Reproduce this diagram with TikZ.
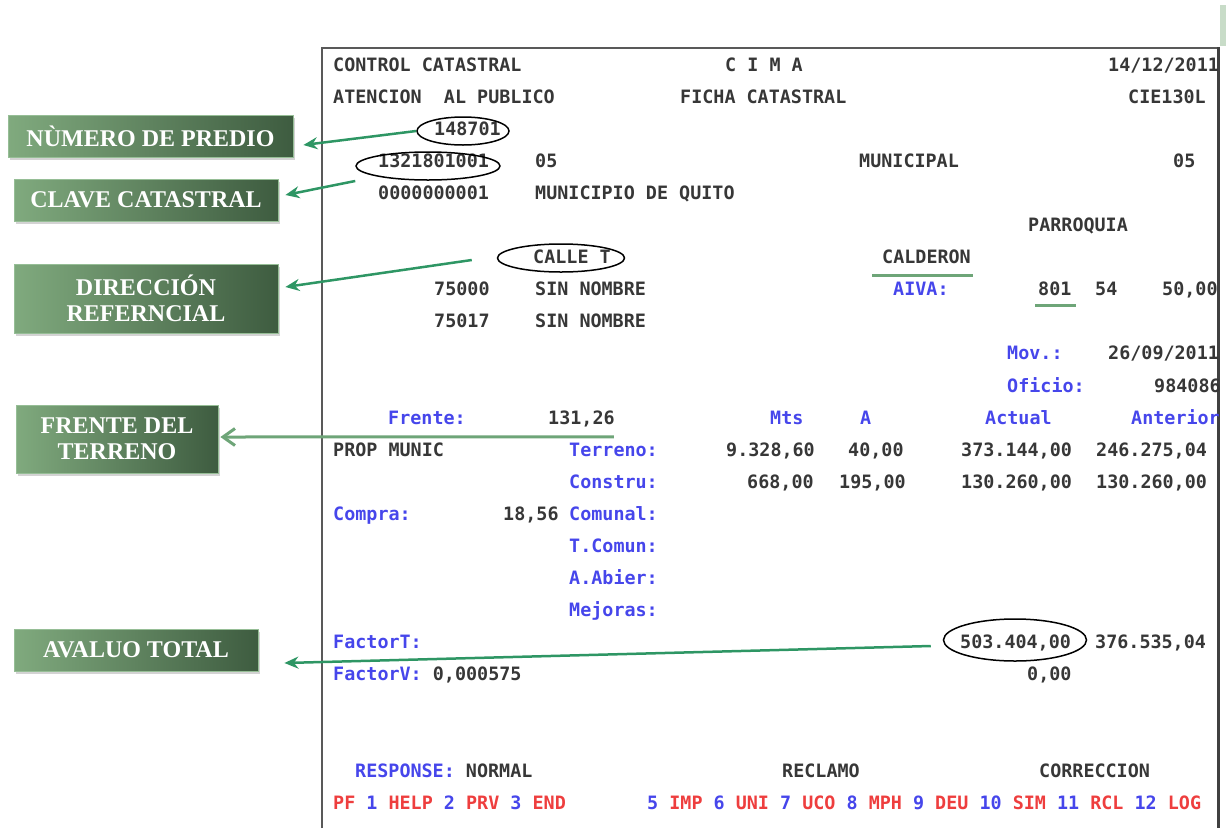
\documentclass[tikz,border=0pt]{standalone}
\usepackage{fontspec}
\setmainfont{Liberation Serif}
\setmonofont{DejaVu Sans Mono}
\usetikzlibrary{arrows.meta,shapes.geometric,shadows}
\definecolor{scrblue}{RGB}{70,70,235}
\definecolor{scrred}{RGB}{238,62,62}
\definecolor{scrink}{RGB}{55,55,55}
\definecolor{tagl}{RGB}{128,170,126}
\definecolor{tagd}{RGB}{62,92,64}
\definecolor{tagedge}{RGB}{150,190,150}
\definecolor{arrgreen}{RGB}{46,150,100}
\definecolor{paleline}{RGB}{110,165,120}
\definecolor{palestrip}{RGB}{200,220,200}
\newcommand{\pfred}[1]{\textcolor{scrred}{#1}}
\newcommand{\pfblue}[1]{\textcolor{scrblue}{#1}}

\tikzset{
  scr/.style={anchor=base west, inner sep=0pt, text=scrink,
    font=\ttfamily\bfseries\fontsize{18.4}{20}\selectfont},
  key/.style={scr, text=scrblue},
  tag/.style={rectangle, draw=tagedge, line width=0.8pt, left color=tagl,
    right color=tagd, text=white, align=center,
    font=\bfseries\fontsize{24}{26}\selectfont,
    drop shadow={shadow xshift=2pt, shadow yshift=-3pt, opacity=0.35}},
  ring/.style={ellipse, draw=black, line width=1.5pt, inner sep=0pt},
  pointer/.style={draw=arrgreen, line width=2.5pt, -{Stealth[length=14pt,width=12pt]}},
  frline/.style={draw=paleline, line width=3pt, -{Straight Barb[length=12pt,width=17pt]}},
  uline/.style={draw=paleline, line width=3pt},
}

\begin{document}
\begin{tikzpicture}[x=1pt,y=-1pt]
\useasboundingbox (0,0) rectangle (1232,828);

% screen frame
\fill[palestrip] (1220,5) rectangle (1226,46);
\draw[gray!70!black, line width=2pt] (322,828) -- (322,48) -- (1218,48);
\draw[black!75, line width=3pt] (1218,47) -- (1218,828);

% screen text
\node[scr] (hd1) at (333,71) {CONTROL CATASTRAL};
\node[scr] (hd2) at (725,71) {C I M A};
\node[scr] (hd3) at (1108,71) {14/12/2011};
\node[scr] (hd4) at (333,103.1) {ATENCION\ \ AL PUBLICO};
\node[scr] (hd5) at (680,103.1) {FICHA CATASTRAL};
\node[scr] (hd6) at (1128,103.1) {CIE130L};
\node[scr] (predio) at (434,135.2) {148701};
\node[scr] (clave) at (378,167.3) {1321801001};
\node[scr] (c05a) at (535,167.3) {05};
\node[scr] (munic) at (859,167.3) {MUNICIPAL};
\node[scr] (c05b) at (1173,167.3) {05};
\node[scr] (cod) at (378,199.4) {0000000001};
\node[scr] (quito) at (535,199.4) {MUNICIPIO DE QUITO};
\node[scr] (parr) at (1028,231.5) {PARROQUIA};
\node[scr] (calle) at (533,263.6) {CALLE T};
\node[scr] (cald) at (882,263.6) {CALDERON};
\node[scr] (n75000) at (434,295.7) {75000};
\node[scr] (sn1) at (535,295.7) {SIN NOMBRE};
\node[key] (aiva) at (893,295.7) {AIVA:};
\node[scr] (a801) at (1038,295.7) {801};
\node[scr] (a54) at (1095,295.7) {54};
\node[scr] (a50) at (1162,295.7) {50,00};
\node[scr] (n75017) at (434,327.8) {75017};
\node[scr] (sn2) at (535,327.8) {SIN NOMBRE};
\node[key] (mov) at (1007,359.9) {Mov.:};
\node[scr] (fecha) at (1108,359.9) {26/09/2011};
\node[key] (ofi) at (1007,392) {Oficio:};
\node[scr] (nofi) at (1154,392) {984086};
\node[key] (frente) at (388,424.1) {Frente:};
\node[scr] (vfrente) at (548,424.1) {131,26};
\node[key] (mts) at (770,424.1) {Mts};
\node[key] (colA) at (860,424.1) {A};
\node[key] (actual) at (985,424.1) {Actual};
\node[key] (anter) at (1131,424.1) {Anterior};
\node[scr] (prop) at (333,456.2) {PROP MUNIC};
\node[scr] (tmts) at (726,456.2) {9.328,60};
\node[scr] (ta) at (848,456.2) {40,00};
\node[scr] (tact) at (961,456.2) {373.144,00};
\node[scr] (tant) at (1096,456.2) {246.275,04};
\node[scr] (cmts) at (747,488.3) {668,00};
\node[scr] (ca) at (839,488.3) {195,00};
\node[scr] (cact) at (961,488.3) {130.260,00};
\node[scr] (cant) at (1096,488.3) {130.260,00};
\node[key] (compra) at (333,520.4) {Compra:};
\node[scr] (vcompra) at (503,520.4) {18,56};
\foreach \t [count=\i from 12] in {Terreno:,Constru:,Comunal:,T.Comun:,A.Abier:,Mejoras:}
  \node[key] (lbl\i) at (569,{71+32.1*\i}) {\t};
\node[key] (factT) at (333,648.8) {FactorT:};
\node[scr] (total) at (960,648.8) {503.404,00};
\node[scr] (totant) at (1095,648.8) {376.535,04};
\node[scr] (factV) at (333,680.9) {\pfblue{FactorV:} 0,000575};
\node[scr] (cero) at (1027,680.9) {0,00};
\node[scr] (resp) at (355,777.2) {\pfblue{RESPONSE:} NORMAL};
\node[scr] (recl) at (782,777.2) {RECLAMO};
\node[scr] (corr) at (1039,777.2) {CORRECCION};
\node[scr] (pfa) at (333,809.3) {\pfred{PF} \pfblue{1} \pfred{HELP} \pfblue{2} \pfred{PRV} \pfblue{3} \pfred{END}};
\node[scr] (pfb) at (647,809.3) {\pfblue{5} \pfred{IMP} \pfblue{6} \pfred{UNI} \pfblue{7} \pfred{UCO} \pfblue{8} \pfred{MPH} \pfblue{9} \pfred{DEU} \pfblue{10} \pfred{SIM} \pfblue{11} \pfred{RCL} \pfblue{12} \pfred{LOG}};

% marks on the screen
\node[ring, minimum width=92pt, minimum height=28pt] (e1) at (463,131) {};
\node[ring, minimum width=144pt, minimum height=28pt] (e2) at (428,166) {};
\node[ring, minimum width=127pt, minimum height=28pt] (e3) at (561,258) {};
\node[ring, minimum width=143pt, minimum height=42pt] (e4) at (1015,640) {};
\draw[uline] ([shift={(-10,11.5)}]cald.base west) -- ([shift={(2,11.5)}]cald.base east);
\draw[uline] ([shift={(-3,10)}]a801.base west) -- ([shift={(4,10)}]a801.base east);

% labels
\node[tag, minimum width=285pt, minimum height=42pt] (b1) at (150.5,136) {NÙMERO DE PREDIO};
\node[tag, minimum width=264pt, minimum height=42pt] (b2) at (146,200) {CLAVE CATASTRAL};
\node[tag, minimum width=264pt, minimum height=69pt] (b3) at (146,298.5) {DIRECCIÓN\\REFERNCIAL};
\node[tag, minimum width=202pt, minimum height=68pt] (b4) at (117,439) {FRENTE DEL\\TERRENO};
\node[tag, minimum width=244pt, minimum height=42pt] (b5) at (136,650) {AVALUO TOTAL};

% pointers
\draw[pointer] (e1.west) -- ([shift={(10,9)}]b1.east);
\draw[pointer] ([shift={(0,15)}]e2.west) -- ([shift={(7,-5)}]b2.east);
\draw[pointer] ([shift={(-25,2)}]e3.west) -- ([shift={(7,-11.5)}]b3.east);
\draw[frline] ([shift={(-1,10)}]vfrente.south east) -- ([shift={(2,-2)}]b4.east);
\draw[pointer] ([shift={(-12,6)}]e4.west) -- ([shift={(26,13)}]b5.east);
\end{tikzpicture}
\end{document}
